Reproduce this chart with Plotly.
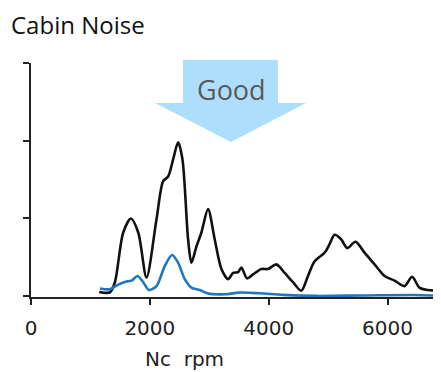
import plotly.graph_objects as go

# Data (y in arbitrary units, tick spacing = 1)
black_rpm = [1148, 1328, 1412, 1552, 1681, 1805, 1944, 2112, 2224, 2308, 2392, 2476, 2549, 2644, 2700,
             2784, 2868, 2980, 3092, 3205, 3317, 3401, 3485, 3541, 3636, 3737, 3877, 3989, 4129, 4269,
             4409, 4549, 4661, 4773, 4941, 5025, 5109, 5222, 5322, 5462, 5613, 5782, 5950, 6118, 6286,
             6414, 6538, 6706, 6900]
black_val = [0.055, 0.05, 0.18, 0.82, 1.00, 0.82, 0.24, 0.99, 1.48, 1.54, 1.76, 1.98, 1.76, 0.73, 0.43,
             0.64, 0.82, 1.12, 0.73, 0.35, 0.22, 0.30, 0.31, 0.37, 0.23, 0.28, 0.35, 0.35, 0.41, 0.30,
             0.18, 0.07, 0.26, 0.45, 0.56, 0.67, 0.79, 0.73, 0.62, 0.70, 0.56, 0.41, 0.26, 0.20, 0.13,
             0.25, 0.11, 0.077, 0.08]

blue_rpm = [1160, 1328, 1468, 1608, 1692, 1793, 1888, 1983, 2112, 2252, 2375, 2476, 2588, 2700, 2840,
            2980, 3289, 3513, 3849, 4241, 4801, 5600, 6426, 6900]
blue_val = [0.10, 0.09, 0.15, 0.19, 0.20, 0.26, 0.18, 0.08, 0.13, 0.39, 0.53, 0.43, 0.22, 0.11, 0.08,
            0.035, 0.026, 0.047, 0.038, 0.017, 0.004, 0.01, 0.015, 0.005]

x_ticks = [0, 2000, 4000, 6000]
y_ticks = [0, 1, 2, 3]

OFF = 8  # page body margin
W, H = 441 - OFF, 372 - OFF
# plot area in window pixels
L, R, T, B = 31, 441, 63, 297


def px(x, y):
    return (x - L) / (R - L), (B - y) / (B - T)


fig = go.Figure()
fig.add_trace(go.Scatter(x=black_rpm, y=black_val, mode="lines",
                         line=dict(color="#111111", width=2.6, shape="spline", smoothing=0.8),
                         showlegend=False))
fig.add_trace(go.Scatter(x=blue_rpm, y=blue_val, mode="lines",
                         line=dict(color="#1f77c4", width=2.6, shape="spline", smoothing=0.8),
                         showlegend=False))

# Arrow "Good"
pts = [(183, 60), (278, 60), (278, 103), (306, 103), (231, 142), (155, 103), (183, 103)]
path = "M " + " L ".join(f"{px(a, b)[0]:.4f},{px(a, b)[1]:.4f}" for a, b in pts) + " Z"
fig.add_shape(type="path", path=path, xref="paper", yref="paper",
              fillcolor="#ADDFFB", line=dict(width=0), layer="below")
gx, gy = px(231, 89)
fig.add_annotation(text="Good", x=gx, y=gy, xref="paper", yref="paper", showarrow=False,
                   xanchor="center", yanchor="middle",
                   font=dict(family="Open Sans", size=27, color="#595959"))

# Axis title
ax, ay = px(184, 359)
fig.add_annotation(text="Nc\u00a0\u00a0rpm", x=ax, y=ay, xref="paper", yref="paper", showarrow=False,
                   xanchor="center", yanchor="middle", borderpad=0,
                   font=dict(family="DejaVu Sans", size=20, color="#222222"))

fig.update_layout(
    width=W, height=H,
    margin=dict(l=L - OFF, r=0, t=T - OFF, b=H - (B - OFF), autoexpand=False),
    paper_bgcolor="white", plot_bgcolor="white",
    title=dict(text="Cabin Noise", x=(11 - OFF) / W, xanchor="left", xref="container",
               y=1 - (26 - OFF) / H, yanchor="middle", yref="container",
               font=dict(family="Open Sans", size=24, color="#111111")),
    xaxis=dict(range=[0, 6900], tickvals=x_ticks, ticks="outside", ticklen=6, tickwidth=1.5,
               tickcolor="#222", showline=True, linecolor="#222", linewidth=1.5,
               showgrid=False, zeroline=False, ticklabelstandoff=6,
               tickfont=dict(family="DejaVu Sans", size=20, color="#222222")),
    yaxis=dict(range=[-0.01, 3.0], tickvals=y_ticks, ticks="outside", ticklen=6, tickwidth=1.5,
               tickcolor="#222", showline=True, linecolor="#222", linewidth=1.5,
               showgrid=False, zeroline=False, showticklabels=False),
)

fig.write_html("out.html")
